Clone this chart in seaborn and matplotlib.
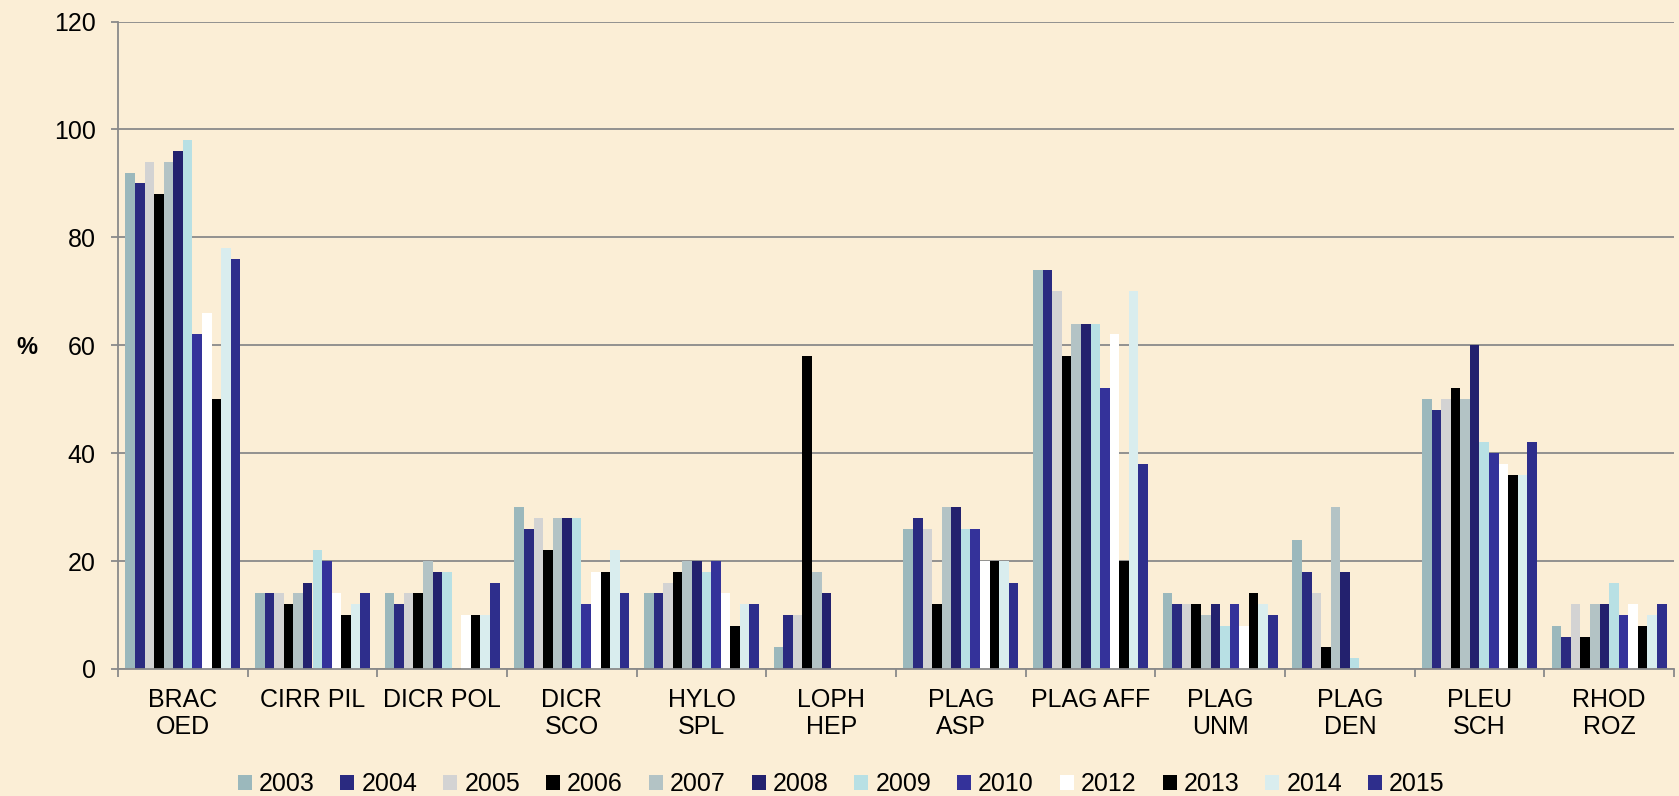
import matplotlib
matplotlib.use("Agg")
import matplotlib.pyplot as plt
import seaborn as sns
import pandas as pd
import numpy as np

# categories (moss species codes) and survey years
species = ["BRAC\nOED", "CIRR PIL", "DICR POL", "DICR\nSCO", "HYLO\nSPL", "LOPH\nHEP",
           "PLAG\nASP", "PLAG AFF", "PLAG\nUNM", "PLAG\nDEN", "PLEU\nSCH", "RHOD\nROZ"]
years = ["2003", "2004", "2005", "2006", "2007", "2008",
         "2009", "2010", "2012", "2013", "2014", "2015"]

# % values per year, in the order of `species`
v2003 = [92, 14, 14, 30, 14, 4, 26, 74, 14, 24, 50, 8]
v2004 = [90, 14, 12, 26, 14, 10, 28, 74, 12, 18, 48, 6]
v2005 = [94, 14, 14, 28, 16, 10, 26, 70, 12, 14, 50, 12]
v2006 = [88, 12, 14, 22, 18, 58, 12, 58, 12, 4, 52, 6]
v2007 = [94, 14, 20, 28, 20, 18, 30, 64, 10, 30, 50, 12]
v2008 = [96, 16, 18, 28, 20, 14, 30, 64, 12, 18, 60, 12]
v2009 = [98, 22, 18, 28, 18, 0, 26, 64, 8, 2, 42, 16]
v2010 = [62, 20, 0, 12, 20, 0, 26, 52, 12, 0, 40, 10]
v2012 = [66, 14, 10, 18, 14, 0, 20, 62, 8, 0, 38, 12]
v2013 = [50, 10, 10, 18, 8, 0, 20, 20, 14, 0, 36, 8]
v2014 = [78, 12, 10, 22, 12, 0, 20, 70, 12, 0, 36, 10]
v2015 = [76, 14, 16, 14, 12, 0, 16, 38, 10, 0, 42, 12]

series = [v2003, v2004, v2005, v2006, v2007, v2008,
          v2009, v2010, v2012, v2013, v2014, v2015]

colors = ["#9BB8BC", "#2A2A80", "#D3D3D3", "#000000", "#B3C3C5", "#23216E",
          "#B8E0E4", "#34329A", "#FFFFFF", "#000000", "#D9EDEE", "#2E2E8C"]
palette = dict(zip(years, colors))

rows = []
for yr, vals in zip(years, series):
    for sp, v in zip(species, vals):
        rows.append({"species": sp, "year": yr, "value": v})
df = pd.DataFrame(rows)

bg = "#FBEED6"
grid_c = "#8A8A8A"

plt.rcParams["font.family"] = ["Liberation Sans", "DejaVu Sans"]
plt.rcParams["font.size"] = 18

fig = plt.figure(figsize=(16.79, 7.96), dpi=100)
fig.patch.set_facecolor(bg)
ax = fig.add_axes([118 / 1679, 1 - 669 / 796, (1674 - 118) / 1679, (669 - 21.5) / 796])
ax.set_facecolor(bg)

sns.barplot(data=df, x="species", y="value", hue="year", order=species, hue_order=years,
            palette=palette, width=0.885, saturation=1, linewidth=0, errorbar=None, ax=ax)

ax.set_xlim(-0.5, 11.5)
ax.set_ylim(0, 120)
ax.set_yticks(range(0, 121, 20))
ax.yaxis.grid(True, color=grid_c, linewidth=1.3)
ax.set_axisbelow(True)
for s in ["top", "right"]:
    ax.spines[s].set_visible(False)
for s in ["left", "bottom"]:
    ax.spines[s].set_color(grid_c)
    ax.spines[s].set_linewidth(1.3)

ax.set_xlabel("")
ax.set_ylabel("")
ax.tick_params(axis="x", length=0, pad=14, labelsize=18)
ax.set_xticks(np.arange(-0.5, 12, 1), minor=True)
ax.tick_params(axis="x", which="minor", length=6, width=1.3, color=grid_c)
ax.tick_params(axis="y", length=5, width=1.3, color=grid_c, pad=11, labelsize=18)
for lbl in ax.get_xticklabels():
    lbl.set_linespacing(1.15)

fig.text(16 / 1679, 1 - 348 / 796, "%", fontsize=17, fontweight="bold", va="center")

leg = ax.get_legend()
handles = leg.legend_handles
labels = [t.get_text() for t in leg.get_texts()]
leg.remove()
fig.legend(handles, labels, ncol=12, loc="center", bbox_to_anchor=(0.501, 1 - 784 / 796),
           frameon=False, handlelength=0.56, handleheight=0.56, handletextpad=0.28,
           columnspacing=1.04, fontsize=18)

fig.savefig("out.png", dpi=100, facecolor=bg)
